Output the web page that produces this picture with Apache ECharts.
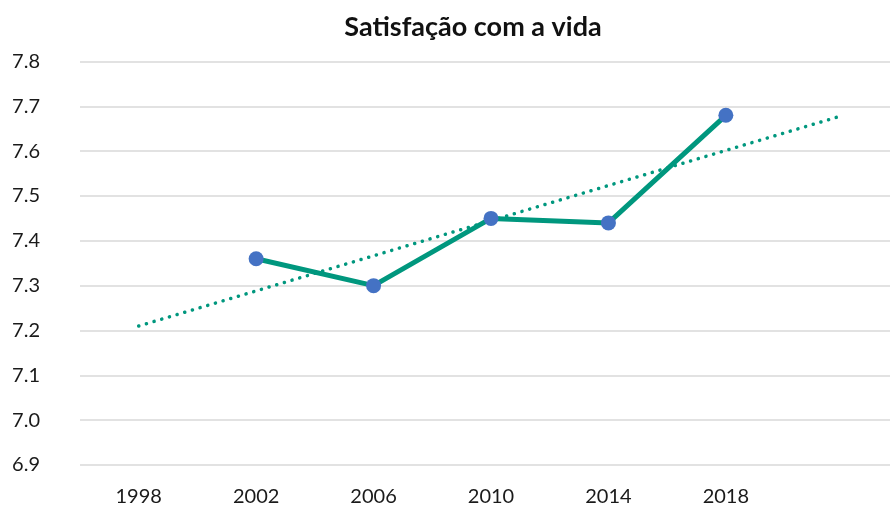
<!DOCTYPE html>
<html>
<head>
<meta charset="utf-8">
<script src="https://cdn.jsdelivr.net/npm/echarts@6/dist/echarts.min.js"></script>
<style>
  html, body { margin: 0; padding: 0; background: #fff; }
  #main { width: 890px; height: 506px; }
</style>
</head>
<body>
<div id="main"></div>
<script>
    // dados
    var years = ['1998', '2002', '2006', '2010', '2014', '2018', ''];
    var satisfacao = [null, 7.36, 7.30, 7.45, 7.44, 7.68, null];
    // linha de tendência (só as pontas)
    var tendencia = [7.21, null, null, null, null, null, 7.68];
    var yMin = 6.9, yMax = 7.8, yStep = 0.1;

    var myChart = echarts.init(document.getElementById('main'));

    var option = {
        animation: false,
        title: {
            text: 'Satisfação com a vida',
            left: 468,
            top: 9,
            textAlign: 'center',
            textStyle: {
                fontFamily: 'Lato',
                fontWeight: 'bold',
                fontSize: 27,
                color: '#111'
            }
        },
        grid: {
            left: 80,
            width: 822,
            top: 61.5,
            bottom: 41,
            outerBoundsMode: 'none'
        },
        xAxis: {
            type: 'category',
            data: years,
            boundaryGap: true,
            axisLine: { show: false },
            axisTick: { show: false },
            axisLabel: {
                margin: 22,
                fontFamily: 'Lato',
                fontSize: 20,
                color: '#1a1a1a'
            }
        },
        yAxis: {
            type: 'value',
            min: yMin,
            max: yMax,
            interval: yStep,
            axisLine: { show: false },
            axisTick: { show: false },
            axisLabel: {
                margin: 40,
                fontFamily: 'Lato',
                fontSize: 20,
                color: '#1a1a1a',
                formatter: function (v) { return v.toFixed(1); }
            },
            splitLine: {
                lineStyle: { color: '#d9d9d9', width: 1.5 }
            }
        },
        series: [
            {
                name: 'Tendência',
                type: 'line',
                data: tendencia,
                connectNulls: true,
                symbol: 'none',
                lineStyle: {
                    color: '#00977e',
                    width: 3.5,
                    type: [0.1, 7.9],
                    cap: 'round'
                },
                z: 1
            },
            {
                name: 'Satisfação com a vida',
                type: 'line',
                data: satisfacao,
                symbol: 'circle',
                symbolSize: 15,
                lineStyle: { color: '#00977e', width: 5 },
                itemStyle: { color: '#4472c4' },
                z: 2
            }
        ]
    };

    myChart.setOption(option);
</script>
</body>
</html>
